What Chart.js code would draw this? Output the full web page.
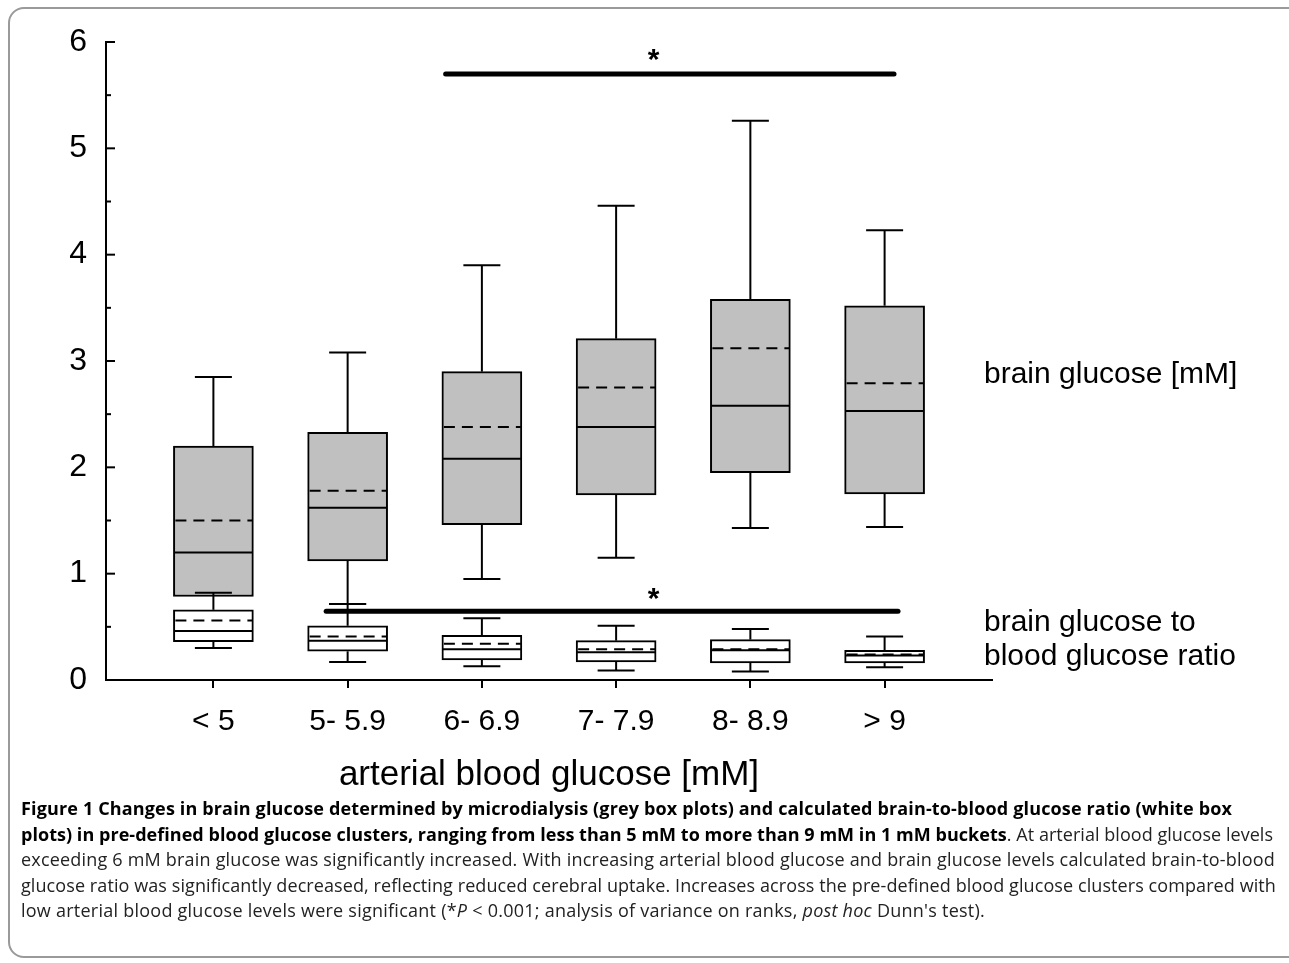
<!DOCTYPE html>
<html>
<head>
<meta charset="utf-8">
<script src="https://cdn.jsdelivr.net/npm/chart.js@4.4.1/dist/chart.umd.min.js"></script>
<style>
  html, body { margin: 0; padding: 0; background: #fff; overflow: hidden; }
  body { width: 1289px; height: 963px; position: relative; }
  #frame { position: absolute; left: 8px; top: 7px; width: 1310px; height: 951px;
           border: 2px solid #9a9a9a; border-radius: 16px; box-sizing: border-box; }
  #chartBox { position: absolute; left: 0; top: 0; width: 1289px; height: 800px; }
  .side { position: absolute; left: 984px; font: 30px "Liberation Sans", Arial, sans-serif;
          color: #000; line-height: 34px; white-space: nowrap; }
  #caption { position: absolute; left: 21px; top: 796px; font: 18px "Open Sans", Lato, sans-serif;
             line-height: 25.5px; color: #222; white-space: nowrap; }
  #caption b { color: #000; }
</style>
</head>
<body>
<div id="frame"></div>
<div id="chartBox"><canvas id="boxChart" width="1289" height="800"></canvas></div>
<div class="side" style="top:356px">brain glucose [mM]</div>
<div class="side" style="top:604px">brain glucose to<br>blood glucose ratio</div>
<div id="caption">
  <div class="cap" data-w="1211"><b>Figure 1 Changes in brain glucose determined by microdialysis (grey box plots) and calculated brain-to-blood glucose ratio (white box</b></div>
  <div class="cap" data-w="1252"><b>plots) in pre-defined blood glucose clusters, ranging from less than 5 mM to more than 9 mM in 1 mM buckets</b>. At arterial blood glucose levels</div>
  <div class="cap" data-w="1254">exceeding 6 mM brain glucose was significantly increased. With increasing arterial blood glucose and brain glucose levels calculated brain-to-blood</div>
  <div class="cap" data-w="1255">glucose ratio was significantly decreased, reflecting reduced cerebral uptake. Increases across the pre-defined blood glucose clusters compared with</div>
  <div class="cap" data-w="964">low arterial blood glucose levels were significant (*<i>P</i> &lt; 0.001; analysis of variance on ranks, <i>post hoc</i> Dunn's test).</div>
</div>
<script>
// arterial blood glucose clusters
const groups = ['< 5', '5- 5.9', '6- 6.9', '7- 7.9', '8- 8.9', '> 9'];

// brain glucose [mM] - grey boxes
const brainLow    = [0.785, 0.715, 0.95, 1.15, 1.43, 1.44];
const brainQ1     = [0.785, 1.12, 1.46, 1.74, 1.95, 1.75];
const brainMedian = [1.20, 1.62, 2.08, 2.38, 2.58, 2.53];
const brainMean   = [1.50, 1.78, 2.38, 2.75, 3.12, 2.79];
const brainQ3     = [2.20, 2.33, 2.90, 3.21, 3.58, 3.52];
const brainHigh   = [2.85, 3.08, 3.90, 4.46, 5.26, 4.23];

// brain-to-blood glucose ratio - white boxes
const ratioLow    = [0.30, 0.17, 0.13, 0.09, 0.08, 0.12];
const ratioQ1     = [0.36, 0.27, 0.19, 0.17, 0.16, 0.16];
const ratioMedian = [0.46, 0.37, 0.29, 0.26, 0.28, 0.23];
const ratioMean   = [0.56, 0.41, 0.34, 0.29, 0.29, 0.24];
const ratioQ3     = [0.66, 0.51, 0.42, 0.37, 0.38, 0.28];
const ratioHigh   = [0.82, 0.715, 0.58, 0.51, 0.48, 0.41];

const yTicks = [0, 1, 2, 3, 4, 5, 6];

// significance bars (x in cluster units, y in mM)
const sigFrom  = [2.73, 1.84];
const sigTo    = [6.07, 6.10];
const sigLevel = [5.70, 0.646];
const starX    = [4.28, 4.28];
const starY    = [5.88, 0.81];

const series = [
  { low: brainLow, q1: brainQ1, med: brainMedian, mean: brainMean, q3: brainQ3, high: brainHigh },
  { low: ratioLow, q1: ratioQ1, med: ratioMedian, mean: ratioMean, q3: ratioQ3, high: ratioHigh }
];

// whiskers, medians, means, significance bars and inward y ticks
const boxExtras = {
  id: 'boxExtras',
  afterDatasetsDraw(chart) {
    const { ctx, scales: { x, y } } = chart;
    ctx.save();
    ctx.strokeStyle = '#000';
    ctx.fillStyle = '#000';
    const line = (x0, y0, x1, y1) => {
      ctx.beginPath(); ctx.moveTo(x0, y0); ctx.lineTo(x1, y1); ctx.stroke();
    };

    series.forEach(s => {
      groups.forEach((g, i) => {
        const cx = x.getPixelForValue(i + 1);
        ctx.lineWidth = 2;
        ctx.setLineDash([]);
        // whiskers
        line(cx, y.getPixelForValue(s.q3[i]), cx, y.getPixelForValue(s.high[i]));
        line(cx - 18.5, y.getPixelForValue(s.high[i]), cx + 18.5, y.getPixelForValue(s.high[i]));
        if (s.low[i] < s.q1[i]) {
          line(cx, y.getPixelForValue(s.q1[i]), cx, y.getPixelForValue(s.low[i]));
          line(cx - 18.5, y.getPixelForValue(s.low[i]), cx + 18.5, y.getPixelForValue(s.low[i]));
        }
        // median
        line(cx - 39, y.getPixelForValue(s.med[i]), cx + 39, y.getPixelForValue(s.med[i]));
        // mean, dashed
        ctx.setLineDash([11, 7]);
        ctx.lineDashOffset = -1;
        line(cx - 39, y.getPixelForValue(s.mean[i]), cx + 39, y.getPixelForValue(s.mean[i]));
        ctx.setLineDash([]);
      });
    });

    // significance bars
    ctx.lineWidth = 5;
    ctx.lineCap = 'round';
    sigLevel.forEach((lv, k) => {
      line(x.getPixelForValue(sigFrom[k]), y.getPixelForValue(lv), x.getPixelForValue(sigTo[k]), y.getPixelForValue(lv));
      ctx.font = 'bold 30px "Liberation Sans", Arial, sans-serif';
      ctx.textAlign = 'center';
      ctx.textBaseline = 'middle';
      ctx.fillText('*', x.getPixelForValue(starX[k]), y.getPixelForValue(starY[k]) + 6);
    });

    // inward ticks on the y axis, minor every 0.5
    ctx.lineCap = 'butt';
    ctx.lineWidth = 2;
    for (let v = 0; v <= 6; v += 0.5) {
      const py = y.getPixelForValue(v);
      line(x.left, py, x.left + (Number.isInteger(v) ? 9 : 5), py);
    }
    ctx.restore();
  }
};

const font = 'Liberation Sans, Arial, sans-serif';

new Chart(document.getElementById('boxChart'), {
  type: 'bar',
  data: {
    datasets: [
      {
        label: 'brain glucose [mM]',
        data: groups.map((g, i) => ({ x: i + 1, y: [brainQ1[i], brainQ3[i]] })),
        backgroundColor: '#c0c0c0',
        borderColor: '#000',
        borderWidth: 2,
        borderSkipped: false,
        barThickness: 80,
        grouped: false
      },
      {
        label: 'brain glucose to blood glucose ratio',
        data: groups.map((g, i) => ({ x: i + 1, y: [ratioQ1[i], ratioQ3[i]] })),
        backgroundColor: '#fff',
        borderColor: '#000',
        borderWidth: 2,
        borderSkipped: false,
        barThickness: 80,
        grouped: false
      }
    ]
  },
  options: {
    responsive: false,
    animation: false,
    layout: { padding: { left: 0, top: 42, right: 297, bottom: 0 } },
    plugins: { legend: { display: false }, tooltip: { enabled: false } },
    scales: {
      x: {
        type: 'linear',
        min: 0.2,
        max: 6.8,
        offset: false,
        afterBuildTicks: s => { s.ticks = groups.map((g, i) => ({ value: i + 1 })); },
        afterFit: s => { s.height = 120; },
        ticks: {
          callback: v => groups[v - 1] ?? '',
          font: { family: font, size: 30 },
          color: '#000',
          padding: 16,
          maxRotation: 0,
          autoSkip: false
        },
        grid: { offset: false, drawOnChartArea: false, drawTicks: true, tickLength: 8, color: '#000', lineWidth: 2 },
        border: { color: '#000', width: 2 },
        title: {
          display: true,
          text: 'arterial blood glucose [mM]',
          font: { family: font, size: 35 },
          color: '#000',
          padding: { top: 0, bottom: 4 }
        }
      },
      y: {
        min: 0,
        max: 6,
        afterBuildTicks: s => { s.ticks = yTicks.map(v => ({ value: v })); },
        afterFit: s => { s.width = 106; },
        ticks: { font: { family: font, size: 32 }, color: '#000', padding: 19 },
        grid: { display: false, drawTicks: false },
        border: { color: '#000', width: 2 }
      }
    }
  },
  plugins: [boxExtras]
});

// stretch each caption line to the width it has in the figure
document.querySelectorAll('.cap').forEach(el => {
  el.style.display = 'inline-block';
  const w = el.getBoundingClientRect().width;
  const chars = el.textContent.length;
  el.style.letterSpacing = ((+el.dataset.w - w) / chars).toFixed(3) + 'px';
  el.style.display = 'block';
});
</script>
</body>
</html>
